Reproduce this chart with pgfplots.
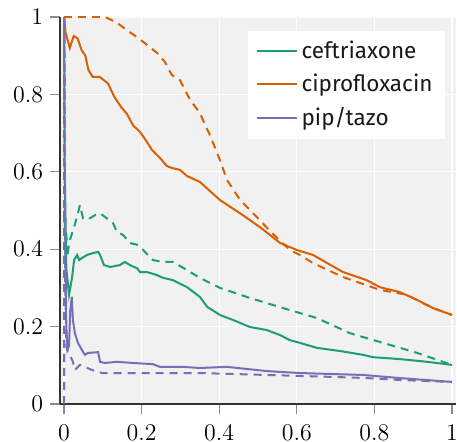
\documentclass[border=0pt]{standalone}
\usepackage{fontspec}
\setsansfont{Fira Sans}
\usepackage{pgfplots}
\pgfplotsset{compat=1.18}
\definecolor{cgreen}{HTML}{1B9E77}
\definecolor{corange}{HTML}{D95F02}
\definecolor{cpurple}{HTML}{7570B3}
\definecolor{bggray}{RGB}{241,241,241}
\begin{document}
\begin{tikzpicture}
\begin{axis}[
  scale only axis,
  width=198bp, height=193.5bp,
  xmin=-0.0103, xmax=1.0103, ymin=0, ymax=1,
  xtick={0,0.2,0.4,0.6,0.8,1}, ytick={0,0.2,0.4,0.6,0.8,1},
  axis background/.style={fill=bggray},
  grid=major, major grid style={white, line width=0.6bp},
  axis x line*=bottom, axis y line*=left,
  axis line style={-, draw=black!80, line width=0.6bp},
  tick align=outside, major tick length=5bp,
  tick style={black!45, line width=0.6bp},
  tick label style={font=\fontsize{12}{14}\selectfont},
  xticklabel style={yshift=-2bp},
  legend style={at={(0.972,0.966)}, anchor=north east, draw=none, fill=white,
    font=\sffamily\fontsize{11.3}{13}\selectfont, text=black!90,
    inner xsep=4bp, inner ysep=3bp, row sep=2.5bp},
  legend cell align=left,
  legend image code/.code={\draw[#1] (0bp,0bp) -- (20bp,0bp);},
  every axis plot/.append style={line width=1bp},
]
% ceftriaxone solid
\addplot[cgreen] coordinates {
(0,1) (0.002,0.6) (0.006,0.35) (0.013,0.282) (0.021,0.328) (0.026,0.372)
(0.034,0.385) (0.039,0.372) (0.046,0.377) (0.059,0.385) (0.075,0.39)
(0.088,0.393) (0.093,0.385) (0.103,0.359) (0.119,0.354) (0.144,0.359)
(0.157,0.367) (0.17,0.359) (0.188,0.351) (0.196,0.341) (0.214,0.341)
(0.24,0.333) (0.255,0.326) (0.281,0.32) (0.317,0.302) (0.35,0.277)
(0.369,0.251) (0.402,0.23) (0.436,0.217) (0.479,0.199) (0.523,0.191)
(0.557,0.178) (0.582,0.165) (0.608,0.158) (0.652,0.145) (0.711,0.137)
(0.771,0.127) (0.796,0.121) (0.866,0.116) (0.936,0.109) (1,0.101)};
\addlegendentry{ceftriaxone}
% ciprofloxacin solid
\addplot[corange] coordinates {
(0,1) (0.004,0.96) (0.015,0.92) (0.025,0.951) (0.035,0.945) (0.045,0.915)
(0.055,0.90) (0.063,0.863) (0.074,0.845) (0.092,0.845) (0.113,0.829)
(0.13,0.793) (0.149,0.765) (0.162,0.75) (0.178,0.72) (0.196,0.703)
(0.212,0.68) (0.227,0.656) (0.247,0.636) (0.265,0.615) (0.278,0.61)
(0.299,0.605) (0.317,0.589) (0.35,0.574) (0.402,0.527) (0.461,0.488)
(0.505,0.457) (0.557,0.416) (0.6,0.398) (0.642,0.385) (0.719,0.341)
(0.78,0.32) (0.814,0.302) (0.866,0.289) (0.91,0.269) (0.951,0.248) (1,0.23)};
\addlegendentry{ciprofloxacin}
% pip/tazo solid
\addplot[cpurple] coordinates {
(0,0.5) (0.003,0.45) (0.006,0.2) (0.009,0.14) (0.013,0.15) (0.016,0.24)
(0.02,0.277) (0.023,0.217) (0.028,0.183) (0.036,0.158) (0.046,0.14)
(0.054,0.127) (0.062,0.132) (0.088,0.134) (0.093,0.109) (0.105,0.106)
(0.137,0.109) (0.178,0.106) (0.229,0.103) (0.247,0.096) (0.306,0.096)
(0.35,0.093) (0.419,0.096) (0.523,0.085) (0.608,0.08) (0.771,0.075)
(0.866,0.067) (1,0.057)};
\addlegendentry{pip/tazo}
% dashed
\addplot[cgreen, dash pattern=on 4bp off 3bp, forget plot] coordinates {
(0,0) (0.001,1) (0.003,0.35) (0.006,0.44) (0.009,0.38) (0.013,0.416)
(0.021,0.442) (0.026,0.457) (0.036,0.493) (0.041,0.514) (0.049,0.48)
(0.059,0.483) (0.067,0.48) (0.08,0.488) (0.093,0.493) (0.106,0.483)
(0.126,0.468) (0.137,0.444) (0.152,0.437) (0.17,0.416) (0.191,0.411)
(0.204,0.398) (0.229,0.372) (0.255,0.367) (0.281,0.367) (0.317,0.346)
(0.35,0.326) (0.402,0.3) (0.479,0.274) (0.564,0.248) (0.652,0.222)
(0.737,0.183) (0.822,0.158) (0.91,0.132) (1,0.101)};
\addplot[corange, dash pattern=on 4bp off 3bp, forget plot] coordinates {
(0,1) (0.106,1) (0.137,0.985) (0.162,0.966) (0.188,0.948) (0.214,0.928)
(0.24,0.907) (0.26,0.884) (0.278,0.85) (0.299,0.837) (0.312,0.811)
(0.325,0.786) (0.35,0.752) (0.376,0.695) (0.402,0.63) (0.42,0.579)
(0.454,0.527) (0.495,0.485) (0.536,0.442) (0.582,0.398) (0.608,0.385)
(0.642,0.364) (0.719,0.328) (0.814,0.295) (0.884,0.282) (0.918,0.264)
(0.951,0.248) (1,0.23)};
\addplot[cpurple, dash pattern=on 4bp off 3bp, forget plot] coordinates {
(0,0) (0.0005,1) (0.003,0.3) (0.006,0.16) (0.008,0.14) (0.015,0.127)
(0.023,0.109) (0.028,0.088) (0.041,0.101) (0.054,0.096) (0.072,0.088)
(0.098,0.08) (0.2,0.08) (0.35,0.08) (0.523,0.075) (0.693,0.07)
(0.78,0.067) (0.866,0.062) (1,0.057)};
\end{axis}
\pgfresetboundingbox
\path (current axis.south west) ++(-30bp,-19bp) coordinate (bl);
\path (current axis.north east) ++(0.5bp,8.5bp) coordinate (tr);
\path (bl) rectangle (tr);
\end{tikzpicture}
\end{document}
